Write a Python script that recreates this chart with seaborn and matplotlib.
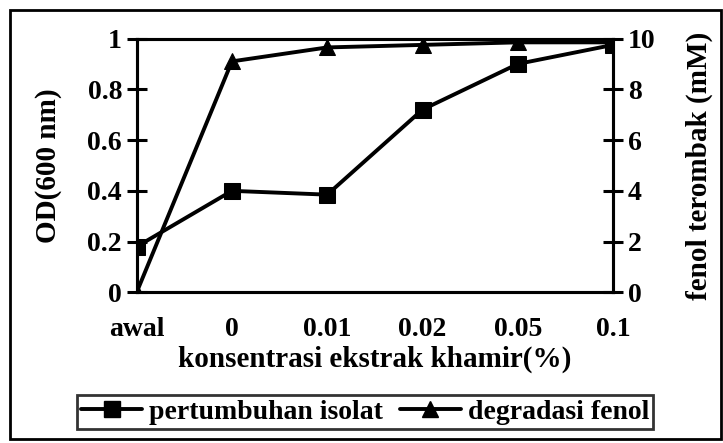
import matplotlib
matplotlib.use("Agg")
import matplotlib.pyplot as plt
from matplotlib.lines import Line2D
from matplotlib.patches import Rectangle
import pandas as pd
import seaborn as sns

# data
kategori = ["awal", "0", "0.01", "0.02", "0.05", "0.1"]
od_600 = [0.18, 0.40, 0.385, 0.72, 0.90, 0.975]          # pertumbuhan isolat
fenol_mM = [0.0, 9.1, 9.65, 9.75, 9.85, 9.85]            # degradasi fenol

sns.set_theme(style="white")
plt.rcParams["font.family"] = ["Liberation Serif", "DejaVu Serif"]
plt.rcParams["font.weight"] = "bold"
plt.rcParams["axes.labelweight"] = "bold"
plt.rcParams["axes.labelcolor"] = "black"
plt.rcParams["text.color"] = "black"
plt.rcParams["font.size"] = 20

df = pd.DataFrame({"konsentrasi": kategori, "od": od_600, "fenol": fenol_mM})
df["pos"] = range(len(df))

fig = plt.figure(figsize=(7.23, 4.43), dpi=100)
ax = fig.add_axes([0.189, 0.34, 0.659, 0.573])
ax2 = ax.twinx()

sns.lineplot(data=df, x="pos", y="od", ax=ax, color="black", linewidth=2.8,
             marker="s", markersize=11, markeredgecolor="black")
sns.lineplot(data=df, x="pos", y="fenol", ax=ax2, color="black", linewidth=2.8,
             marker="^", markersize=11, markeredgecolor="black")

ax.set_xlim(0, len(kategori) - 1)
ax.set_ylim(0, 1)
ax2.set_ylim(0, 10)
ax.set_xticks(df["pos"])
ax.set_xticklabels(kategori)
ax.set_yticks([0, 0.2, 0.4, 0.6, 0.8, 1])
ax.set_yticklabels(["0", "0.2", "0.4", "0.6", "0.8", "1"])
ax2.set_yticks([0, 2, 4, 6, 8, 10])

for a in (ax, ax2):
    for s in a.spines.values():
        s.set_color("black")
        s.set_linewidth(2.2)
ax.tick_params(axis="x", direction="inout", length=15, width=2.2,
               pad=10, colors="black", labelsize=20)
ax.tick_params(axis="y", direction="inout", length=15, width=2.2,
               pad=3, colors="black", labelsize=20)
ax2.tick_params(axis="y", direction="inout", length=15, width=2.2,
                pad=3, colors="black", labelsize=20)

ax.set_xlabel("konsentrasi ekstrak khamir(%)", fontsize=21, labelpad=3,
              color="black")
ax.set_ylabel("OD(600 nm)", fontsize=21, labelpad=18, color="black")
ax2.set_ylabel("fenol terombak (mM)", fontsize=21, labelpad=22, color="black")

handles = [
    Line2D([], [], color="black", linewidth=2.8, marker="s", markersize=11),
    Line2D([], [], color="black", linewidth=2.8, marker="^", markersize=11),
]
leg = fig.legend(handles, ["pertumbuhan isolat", "degradasi fenol"],
                 loc="center", bbox_to_anchor=(0.505, 0.07), ncol=2,
                 frameon=True, fancybox=False, fontsize=20,
                 handlelength=2.2, handletextpad=0.25, columnspacing=0.6,
                 borderpad=0.15, borderaxespad=0)
leg.get_frame().set_edgecolor("black")
leg.get_frame().set_linewidth(2)

fig.patches.append(Rectangle((0.014, 0.01), 0.983, 0.968, transform=fig.transFigure,
                             fill=False, edgecolor="black", linewidth=2))

fig.savefig("out.png", dpi=100)
